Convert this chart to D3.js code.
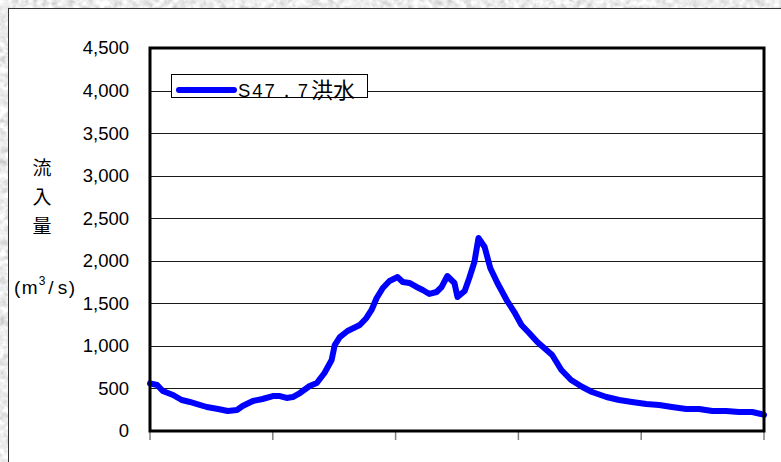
<!DOCTYPE html>
<html>
<head>
<meta charset="utf-8">
<script src="https://cdn.jsdelivr.net/npm/d3@7"></script>
<style>
  html, body { margin: 0; padding: 0; background: #d8d8d8; }
  svg { display: block; }
</style>
</head>
<body>
<svg id="chart" width="781" height="462"></svg>
<script>
// ---- data ----
const hours = [0, 1.4, 2.5, 4.5, 6.2, 7.8, 9.2, 11.1, 13.3, 15.2, 17.0, 18.1, 20.1, 22.0, 24.0, 25.4, 26.7, 27.9, 29.3, 31.2, 32.6, 34.1, 35.5, 36.1, 37.1, 38.6, 41.0, 42.3, 43.3, 44.3, 45.5, 46.8, 48.4, 49.4, 50.7, 52.1, 53.3, 54.6, 56.0, 57.0, 58.1, 59.5, 60.1, 61.5, 62.4, 63.4, 64.2, 65.4, 66.5, 67.9, 69.7, 71.2, 72.6, 74.1, 75.7, 78.6, 80.4, 82.3, 84.5, 86.4, 89.2, 91.7, 94.2, 97.0, 99.5, 102.0, 104.8, 107.3, 109.9, 112.6, 115.1, 117.7, 119.4, 120];
const flow  = [560, 540, 470, 423, 364, 341, 317, 282, 259, 235, 247, 294, 352, 376, 411, 411, 388, 399, 446, 529, 564, 681, 834, 1010, 1104, 1175, 1245, 1328, 1422, 1563, 1680, 1762, 1809, 1751, 1739, 1692, 1657, 1610, 1633, 1692, 1821, 1739, 1574, 1645, 1798, 1986, 2268, 2162, 1915, 1739, 1539, 1398, 1245, 1151, 1046, 893, 717, 599, 517, 458, 399, 364, 341, 317, 305, 282, 259, 259, 235, 235, 223, 223, 200, 190];
const yTicks = [0, 500, 1000, 1500, 2000, 2500, 3000, 3500, 4000, 4500];
const xTicks = [0, 24, 48, 72, 96, 120];
const seriesName = "S47．7洪水";
const yTitleChars = ["流", "入", "量"];

// ---- drawing ----
(function () {
const svg = d3.select("#chart");
const latin = "'Liberation Sans', Arial, sans-serif";
const cjk = "'Noto Sans CJK JP', sans-serif";

// textured stone-like background
const defs = svg.append("defs");
const f = defs.append("filter").attr("id", "stone").attr("x", 0).attr("y", 0).attr("width", "100%").attr("height", "100%");
f.append("feTurbulence").attr("type", "fractalNoise").attr("baseFrequency", 0.15).attr("numOctaves", 3).attr("seed", 4).attr("result", "n");
f.append("feColorMatrix").attr("type", "matrix")
  .attr("values", "0.4 0.4 0.4 0 0.24  0.4 0.4 0.4 0 0.24  0.4 0.4 0.4 0 0.24  0 0 0 0 1");
svg.append("rect").attr("width", 781).attr("height", 462).attr("fill", "#d8d8d8").attr("filter", "url(#stone)");

// white panel
svg.append("rect").attr("x", 8.5).attr("y", 8.5).attr("width", 790).attr("height", 470)
  .attr("fill", "#fff").attr("stroke", "#333").attr("stroke-width", 1);

const pL = 150, pR = 764, pT = 48, pB = 431;
const x = d3.scaleLinear().domain([0, 120]).range([pL, pR]);
const y = d3.scaleLinear().domain([0, 4500]).range([pB, pT]);

// gridlines
svg.append("g").selectAll("line").data(yTicks.filter(d => d > 0 && d < 4500)).join("line")
  .attr("x1", pL).attr("x2", pR)
  .attr("y1", d => Math.round(y(d)) + 0.5).attr("y2", d => Math.round(y(d)) + 0.5)
  .attr("stroke", "#1a1a1a").attr("stroke-width", 1.2);

// y axis labels
const yAxis = d3.axisLeft(y).tickValues(yTicks).tickSize(0).tickPadding(21).tickFormat(d3.format(","));
const gy = svg.append("g").attr("transform", `translate(${pL},0)`).call(yAxis);
gy.select(".domain").remove();
gy.selectAll("text").attr("font-family", latin).attr("font-size", 18.5).attr("fill", "#000");

// x ticks
svg.append("g").selectAll("line").data(xTicks).join("line")
  .attr("x1", d => x(d)).attr("x2", d => x(d))
  .attr("y1", pB + 1).attr("y2", pB + 9)
  .attr("stroke", "#808080").attr("stroke-width", 1.5);

// series line
const line = d3.line().x((d, i) => x(hours[i])).y(d => y(d));
svg.append("path").datum(flow).attr("d", line)
  .attr("fill", "none").attr("stroke", "#0000ff").attr("stroke-width", 6)
  .attr("stroke-linejoin", "round").attr("stroke-linecap", "round");

// plot frame
svg.append("rect").attr("x", pL).attr("y", pT).attr("width", pR - pL).attr("height", pB - pT)
  .attr("fill", "none").attr("stroke", "#000").attr("stroke-width", 3);

// legend
const lg = svg.append("g");
lg.append("rect").attr("x", 171.5).attr("y", 74.5).attr("width", 196).attr("height", 23)
  .attr("fill", "#fff").attr("stroke", "#000").attr("stroke-width", 1);
lg.append("line").attr("x1", 179).attr("x2", 234).attr("y1", 90).attr("y2", 90)
  .attr("stroke", "#0000ff").attr("stroke-width", 6).attr("stroke-linecap", "round");
const lt = lg.append("text").attr("y", 97).attr("fill", "#000");
lt.append("tspan").attr("x", 238).attr("font-family", latin).attr("font-size", 18.5)
  .attr("textLength", 70).attr("lengthAdjust", "spacing").text(seriesName.slice(0, -2));
lt.append("tspan").attr("x", 311).attr("font-family", cjk).attr("font-size", 22)
  .attr("y", 98).text(seriesName.slice(-2));

// y title
const yt = svg.append("g").attr("font-family", cjk).attr("font-size", 19).attr("fill", "#000").attr("text-anchor", "middle");
yTitleChars.forEach((c, i) => {
  yt.append("text").attr("x", 42).attr("y", 175 + i * 29).text(c);
});
const unit = svg.append("text").attr("x", 14).attr("y", 294).attr("font-family", latin).attr("font-size", 19).attr("fill", "#000");
unit.append("tspan").text("(");
unit.append("tspan").attr("dx", 1.5).text("m");
unit.append("tspan").attr("dy", -9).attr("dx", 1).attr("font-size", 12).text("3");
unit.append("tspan").attr("dy", 9).attr("dx", 3).text("/");
unit.append("tspan").attr("dx", 4).text("s");
unit.append("tspan").attr("dx", 1.5).text(")");
})();
</script>
</body>
</html>
